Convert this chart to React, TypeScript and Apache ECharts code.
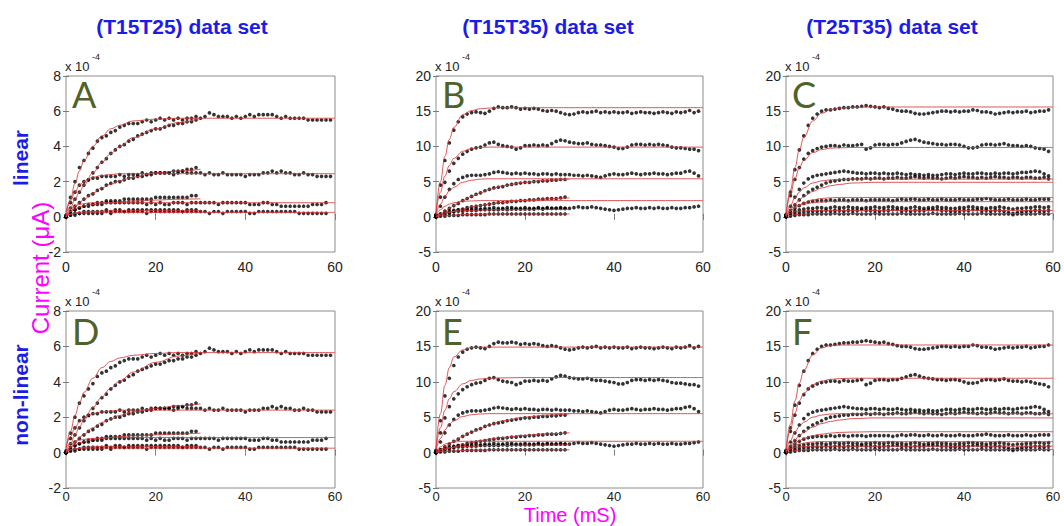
import React, { useEffect, useRef } from "react";
import * as echarts from "echarts";

// ---------- Data (units of 1e-4 µA, sampled every 1 ms) ----------
// Dataset T15T25 (panels A, D)
const A1 = [0.1, 1.1, 2.0, 2.8, 3.2, 3.6, 3.9, 4.3, 4.5, 4.6, 4.8, 4.9, 5.1, 5.2, 5.3, 5.3, 5.3, 5.4, 5.5, 5.4, 5.5, 5.6, 5.5, 5.6, 5.5, 5.6, 5.5, 5.6, 5.6, 5.7, 5.6, 5.7, 5.9, 5.8, 5.7, 5.7, 5.7, 5.6, 5.7, 5.6, 5.7, 5.8, 5.7, 5.8, 5.8, 5.8, 5.8, 5.7, 5.6, 5.7, 5.6, 5.6, 5.6, 5.6, 5.5, 5.5, 5.5, 5.5, 5.5, 5.5];
const A2 = [0.0, 0.5, 1.0, 1.4, 1.8, 2.1, 2.5, 2.8, 3.1, 3.3, 3.6, 3.8, 4.0, 4.1, 4.3, 4.4, 4.6, 4.7, 4.8, 4.9, 5.0, 5.0, 5.1, 5.2, 5.2, 5.3, 5.3, 5.4, 5.4, 5.5];
const A3 = [0.0, 0.8, 1.4, 1.8, 2.0, 2.1, 2.2, 2.2, 2.3, 2.3, 2.3, 2.3, 2.4, 2.3, 2.4, 2.4, 2.4, 2.5, 2.4, 2.5, 2.5, 2.5, 2.5, 2.5, 2.4, 2.5, 2.6, 2.5, 2.5, 2.5, 2.5, 2.4, 2.5, 2.4, 2.4, 2.5, 2.4, 2.4, 2.4, 2.4, 2.3, 2.4, 2.4, 2.4, 2.5, 2.5, 2.6, 2.5, 2.6, 2.5, 2.5, 2.4, 2.4, 2.5, 2.4, 2.4, 2.3, 2.3, 2.3, 2.3];
const A4 = [0.0, 0.3, 0.6, 0.8, 1.0, 1.2, 1.3, 1.5, 1.6, 1.8, 1.9, 2.0, 2.0, 2.1, 2.2, 2.2, 2.3, 2.3, 2.4, 2.4, 2.5, 2.5, 2.5, 2.5, 2.6, 2.6, 2.6, 2.7, 2.7, 2.8];
const A5 = [0.0, 0.2, 0.4, 0.5, 0.6, 0.7, 0.7, 0.8, 0.8, 0.9, 0.9, 0.9, 0.9, 1.0, 1.0, 1.0, 1.0, 1.0, 1.0, 1.0, 1.1, 1.1, 1.1, 1.1, 1.1, 1.1, 1.1, 1.1, 1.2, 1.2];
const A6 = [0.0, 0.2, 0.4, 0.5, 0.6, 0.6, 0.7, 0.7, 0.7, 0.8, 0.8, 0.8, 0.8, 0.8, 0.8, 0.8, 0.8, 0.8, 0.7, 0.8, 0.7, 0.8, 0.7, 0.7, 0.8, 0.8, 0.8, 0.7, 0.8, 0.8, 0.8, 0.8, 0.8, 0.8, 0.7, 0.8, 0.8, 0.8, 0.8, 0.8, 0.8, 0.7, 0.7, 0.7, 0.8, 0.8, 0.7, 0.7, 0.6, 0.6, 0.6, 0.6, 0.6, 0.6, 0.6, 0.7, 0.7, 0.7, 0.8];
const A7 = [0.0, 0.1, 0.2, 0.2, 0.3, 0.3, 0.3, 0.3, 0.3, 0.4, 0.3, 0.4, 0.4, 0.3, 0.4, 0.4, 0.4, 0.4, 0.4, 0.4, 0.4, 0.4, 0.4, 0.4, 0.4, 0.4, 0.3, 0.4, 0.4, 0.4];
const A8 = [0.0, 0.1, 0.1, 0.2, 0.2, 0.2, 0.2, 0.2, 0.2, 0.3, 0.2, 0.3, 0.3, 0.3, 0.3, 0.3, 0.3, 0.3, 0.2, 0.3, 0.3, 0.3, 0.3, 0.3, 0.3, 0.3, 0.3, 0.3, 0.3, 0.3, 0.3, 0.3, 0.2, 0.3, 0.3, 0.2, 0.3, 0.3, 0.3, 0.3, 0.3, 0.2, 0.2, 0.3, 0.3, 0.3, 0.3, 0.3, 0.3, 0.3, 0.3, 0.3, 0.2, 0.2, 0.2, 0.2, 0.2, 0.2, 0.2];

// Dataset T15T35 (panels B, E)
const B1 = [0.3, 4.5, 8.0, 10.5, 12.3, 13.5, 14.2, 14.6, 14.8, 14.9, 14.8, 14.7, 15.0, 15.4, 15.6, 15.5, 15.5, 15.6, 15.5, 15.3, 15.4, 15.3, 15.4, 15.3, 15.1, 15.0, 15.1, 15.0, 14.8, 14.6, 14.5, 14.6, 14.8, 14.9, 14.8, 14.9, 15.0, 14.8, 14.9, 14.8, 14.9, 14.8, 14.8, 14.9, 14.7, 14.8, 14.9, 14.8, 14.8, 14.7, 14.8, 14.9, 14.8, 14.7, 14.9, 14.8, 14.9, 15.1, 14.8, 15.0];
const B2 = [0.2, 2.8, 4.9, 6.5, 7.6, 8.3, 8.9, 9.3, 9.6, 9.8, 9.9, 10.2, 10.5, 10.6, 10.3, 10.1, 10.0, 9.9, 9.6, 9.8, 10.1, 10.1, 10.2, 10.1, 10.2, 10.1, 10.4, 10.7, 10.9, 10.8, 10.6, 10.5, 10.4, 10.4, 10.5, 10.3, 10.2, 10.2, 10.1, 10.0, 9.9, 9.7, 9.7, 9.9, 10.2, 10.3, 10.3, 10.2, 10.3, 10.2, 10.3, 10.2, 10.1, 9.9, 9.8, 9.8, 9.7, 9.6, 9.6, 9.4];
const B3 = [0.2, 1.5, 2.8, 3.9, 4.7, 5.3, 5.6, 5.8, 5.9, 5.9, 5.9, 6.0, 6.1, 6.3, 6.4, 6.3, 6.2, 6.1, 6.2, 6.1, 6.2, 6.1, 6.1, 6.0, 6.1, 6.1, 6.0, 6.1, 6.0, 6.0, 6.0, 5.9, 5.9, 5.8, 5.9, 5.8, 5.7, 5.6, 5.8, 6.0, 6.1, 6.0, 6.0, 6.1, 6.2, 6.1, 6.0, 6.1, 6.1, 6.2, 6.1, 6.1, 6.0, 6.1, 6.2, 6.2, 6.4, 6.5, 6.2, 5.8];
const B4 = [0.0, 0.4, 0.8, 1.2, 1.6, 1.9, 2.3, 2.6, 2.9, 3.2, 3.4, 3.7, 3.9, 4.1, 4.2, 4.3, 4.5, 4.6, 4.7, 4.8, 4.9, 4.9, 5.0, 5.0, 5.1, 5.1, 5.2, 5.2, 5.3, 5.3];
const B5 = [0.0, 0.2, 0.4, 0.6, 0.8, 1.0, 1.1, 1.3, 1.4, 1.5, 1.6, 1.7, 1.8, 1.9, 2.0, 2.0, 2.1, 2.2, 2.2, 2.3, 2.3, 2.4, 2.4, 2.5, 2.5, 2.6, 2.6, 2.6, 2.7, 2.8];
const B6 = [0.1, 0.4, 0.6, 0.8, 0.9, 1.0, 1.0, 1.1, 1.1, 1.2, 1.1, 1.2, 1.2, 1.3, 1.2, 1.2, 1.3, 1.3, 1.2, 1.2, 1.3, 1.2, 1.2, 1.3, 1.2, 1.3, 1.2, 1.2, 1.3, 1.2, 1.2, 1.3, 1.4, 1.3, 1.3, 1.4, 1.3, 1.2, 1.1, 1.0, 0.9, 1.0, 1.1, 1.2, 1.2, 1.3, 1.2, 1.2, 1.3, 1.2, 1.3, 1.2, 1.2, 1.3, 1.2, 1.2, 1.3, 1.3, 1.4, 1.5];
const B7 = [0.0, 0.3, 0.5, 0.6, 0.7, 0.8, 0.8, 0.9, 0.9, 0.9, 1.0, 1.0, 1.0, 1.0, 1.0, 1.1, 1.0, 1.1, 1.1, 1.1, 1.1, 1.1, 1.1, 1.2, 1.1, 1.2, 1.2, 1.2, 1.2, 1.2];
const B8 = [0.0, 0.1, 0.1, 0.2, 0.2, 0.2, 0.3, 0.3, 0.3, 0.3, 0.3, 0.3, 0.4, 0.4, 0.4, 0.4, 0.4, 0.4, 0.4, 0.4, 0.4, 0.4, 0.4, 0.4, 0.4, 0.4, 0.4, 0.4, 0.4, 0.4];

// Dataset T25T35 (panels C, F)
const C1 = [0.3, 3.5, 6.7, 9.5, 11.5, 13.0, 14.0, 14.6, 15.0, 15.2, 15.2, 15.3, 15.4, 15.5, 15.5, 15.6, 15.6, 15.7, 15.8, 15.7, 15.6, 15.5, 15.6, 15.4, 15.3, 15.1, 15.0, 15.0, 14.9, 14.7, 14.6, 14.6, 14.7, 14.8, 14.9, 15.0, 15.0, 14.9, 15.0, 14.9, 15.0, 15.0, 15.2, 15.1, 14.9, 14.9, 14.8, 14.6, 14.7, 14.8, 14.9, 14.8, 14.9, 14.9, 15.0, 14.8, 14.9, 15.0, 15.0, 15.2];
const C2 = [0.2, 3.0, 5.3, 7.0, 8.2, 9.0, 9.4, 9.7, 9.9, 10.0, 10.1, 10.1, 10.0, 10.2, 10.1, 10.1, 10.2, 10.3, 9.6, 9.8, 10.2, 10.3, 10.3, 10.2, 10.3, 10.3, 10.5, 10.7, 10.9, 11.0, 10.8, 10.6, 10.5, 10.4, 10.3, 10.3, 10.2, 10.3, 10.3, 10.2, 10.0, 9.8, 9.8, 9.9, 10.2, 10.3, 10.3, 10.2, 10.3, 10.4, 10.2, 10.1, 10.1, 10.0, 10.1, 10.0, 9.8, 9.7, 9.6, 9.3];
const C3 = [0.2, 1.5, 2.8, 3.9, 4.8, 5.4, 5.7, 5.9, 6.0, 6.1, 6.2, 6.3, 6.4, 6.5, 6.4, 6.3, 6.2, 6.2, 6.1, 6.2, 6.2, 6.1, 6.2, 6.1, 6.1, 6.2, 6.1, 6.0, 6.1, 6.0, 6.0, 5.9, 6.0, 5.9, 5.9, 6.0, 6.1, 6.1, 6.0, 6.1, 6.2, 6.1, 6.1, 6.2, 6.2, 6.1, 6.1, 6.2, 6.1, 6.2, 6.2, 6.1, 6.2, 6.3, 6.3, 6.4, 6.5, 6.4, 6.1, 5.8];
const C4 = [0.1, 0.9, 1.7, 2.4, 3.0, 3.5, 3.9, 4.2, 4.5, 4.8, 5.0, 5.1, 5.2, 5.3, 5.3, 5.4, 5.4, 5.4, 5.5, 5.4, 5.5, 5.5, 5.4, 5.5, 5.5, 5.6, 5.5, 5.5, 5.6, 5.7, 5.6, 5.5, 5.6, 5.5, 5.5, 5.4, 5.5, 5.6, 5.5, 5.6, 5.7, 5.6, 5.6, 5.5, 5.6, 5.5, 5.6, 5.7, 5.6, 5.6, 5.5, 5.6, 5.6, 5.5, 5.6, 5.6, 5.5, 5.5, 5.6, 5.4];
const C5 = [0.1, 0.7, 1.2, 1.6, 1.9, 2.1, 2.2, 2.3, 2.3, 2.3, 2.4, 2.3, 2.4, 2.4, 2.3, 2.4, 2.4, 2.4, 2.3, 2.4, 2.4, 2.4, 2.4, 2.4, 2.3, 2.4, 2.5, 2.4, 2.5, 2.5, 2.4, 2.4, 2.5, 2.4, 2.4, 2.5, 2.4, 2.4, 2.4, 2.5, 2.4, 2.4, 2.4, 2.5, 2.5, 2.6, 2.5, 2.4, 2.4, 2.4, 2.5, 2.4, 2.4, 2.4, 2.5, 2.4, 2.4, 2.5, 2.5, 2.5];
const C6 = [0.1, 0.5, 0.8, 1.0, 1.1, 1.2, 1.2, 1.3, 1.3, 1.2, 1.3, 1.4, 1.3, 1.3, 1.4, 1.3, 1.3, 1.2, 1.3, 1.3, 1.4, 1.3, 1.3, 1.4, 1.4, 1.3, 1.3, 1.2, 1.3, 1.4, 1.3, 1.2, 1.3, 1.3, 1.4, 1.3, 1.3, 1.2, 1.2, 1.3, 1.3, 1.4, 1.4, 1.3, 1.3, 1.2, 1.3, 1.3, 1.4, 1.3, 1.2, 1.1, 1.2, 1.2, 1.3, 1.3, 1.4, 1.4, 1.3, 1.4];
const C7 = [0.0, 0.3, 0.5, 0.6, 0.7, 0.7, 0.8, 0.8, 0.8, 0.9, 0.8, 0.9, 0.9, 0.8, 0.9, 0.9, 0.9, 1.0, 0.9, 0.9, 0.9, 0.8, 0.9, 0.9, 1.0, 1.0, 0.9, 0.9, 0.8, 0.9, 0.9, 0.9, 1.0, 1.0, 1.0, 0.9, 0.9, 0.8, 0.8, 0.9, 0.9, 0.9, 1.0, 1.0, 0.9, 0.9, 0.8, 0.9, 0.9, 0.8, 0.6, 0.5, 0.6, 0.7, 0.8, 0.8, 0.9, 0.9, 0.8, 0.9];
const C8 = [0.0, 0.1, 0.2, 0.3, 0.3, 0.3, 0.4, 0.4, 0.4, 0.4, 0.4, 0.5, 0.4, 0.4, 0.4, 0.5, 0.4, 0.4, 0.4, 0.4, 0.5, 0.4, 0.4, 0.4, 0.4, 0.4, 0.5, 0.4, 0.4, 0.4, 0.4, 0.4, 0.4, 0.5, 0.4, 0.4, 0.4, 0.4, 0.4, 0.5, 0.4, 0.4, 0.4, 0.4, 0.5, 0.4, 0.4, 0.4, 0.4, 0.4, 0.4, 0.3, 0.4, 0.4, 0.4, 0.4, 0.4, 0.5, 0.4, 0.4];

// ---------- Fitted curves (red), sampled at FIT_T ----------
const FIT_T = [0, 1, 2, 3, 4, 6, 8, 10, 12, 15, 20, 25, 30, 40, 50, 60];

// A: linear, T15T25
const FA1 = [0, 1.0, 1.9, 2.6, 3.2, 4.0, 4.6, 5.0, 5.2, 5.45, 5.55, 5.6, 5.6, 5.6, 5.6, 5.6];
const FA2 = [0, 0.5, 1.0, 1.4, 1.8, 2.5, 3.1, 3.6, 4.0, 4.5, 5.0, 5.35, 5.6];
const FA3 = [0.3, 0.9, 1.4, 1.8, 2.0, 2.25, 2.35, 2.4, 2.45, 2.45, 2.45, 2.45, 2.45, 2.45, 2.45, 2.45];
const FA4 = [0, 0.3, 0.6, 0.8, 1.0, 1.35, 1.65, 1.85, 2.05, 2.25, 2.5, 2.6, 2.7];
const FA5 = [0.3, 0.5, 0.6, 0.7, 0.75, 0.8, 0.8, 0.8, 0.8, 0.8, 0.8, 0.8, 0.8, 0.8, 0.8, 0.8];
const FA6 = [0, 0.3, 0.45, 0.55, 0.62, 0.7, 0.75, 0.8, 0.85, 0.9, 0.95, 1.0, 1.02];
const FA7 = [0.1, 0.15, 0.2, 0.2, 0.22, 0.25, 0.25, 0.25, 0.25, 0.25, 0.25, 0.25, 0.25, 0.25, 0.25, 0.25];
const FA8 = [0, 0.15, 0.2, 0.25, 0.28, 0.3, 0.32, 0.35, 0.35, 0.35, 0.35, 0.35, 0.35];
// B: linear, T15T35
const FB1 = [0.5, 5.0, 8.6, 11.0, 12.7, 14.5, 15.1, 15.35, 15.45, 15.5, 15.5, 15.5, 15.5, 15.5, 15.5, 15.5];
const FB2 = [0.5, 3.5, 5.8, 7.3, 8.3, 9.3, 9.7, 9.85, 9.9, 9.9, 9.9, 9.9, 9.9, 9.9, 9.9, 9.9];
const FB3 = [0.3, 1.8, 2.9, 3.7, 4.2, 4.9, 5.2, 5.35, 5.4, 5.4, 5.4, 5.4, 5.4, 5.4, 5.4, 5.4];
const FB4 = [0, 0.4, 0.8, 1.2, 1.6, 2.3, 2.9, 3.4, 3.9, 4.4, 4.9, 5.2, 5.35];
const FB5 = [0.3, 1.0, 1.5, 1.8, 2.0, 2.2, 2.25, 2.3, 2.3, 2.3, 2.3, 2.3, 2.3, 2.3, 2.3, 2.3];
const FB6 = [0, 0.2, 0.4, 0.6, 0.8, 1.1, 1.4, 1.6, 1.8, 2.05, 2.35, 2.55, 2.7];
const FB7 = [0.1, 0.4, 0.6, 0.7, 0.75, 0.85, 0.9, 0.95, 1.0, 1.0, 1.0, 1.05, 1.05];
const FB8 = [0, 0.1, 0.15, 0.2, 0.25, 0.3, 0.35, 0.35, 0.4, 0.4, 0.4, 0.4, 0.4];
// C: linear, T25T35
const FC1 = [0.3, 3.8, 7.0, 9.5, 11.3, 13.6, 14.7, 15.2, 15.45, 15.55, 15.6, 15.6, 15.6, 15.6, 15.6, 15.6];
const FC2 = [0.3, 3.2, 5.4, 7.0, 8.0, 9.1, 9.55, 9.75, 9.8, 9.85, 9.85, 9.85, 9.85, 9.85, 9.85, 9.85];
const FC3 = [0.2, 1.6, 2.7, 3.5, 4.1, 4.8, 5.1, 5.25, 5.3, 5.35, 5.35, 5.35, 5.35, 5.35, 5.35, 5.35];
const FC4 = [0.1, 1.0, 1.8, 2.4, 2.9, 3.6, 4.1, 4.4, 4.6, 4.8, 4.9, 4.9, 4.9, 4.9, 4.9, 4.9];
const FC5 = [0.1, 0.8, 1.3, 1.7, 2.0, 2.4, 2.6, 2.7, 2.75, 2.75, 2.75, 2.75, 2.75, 2.75, 2.75, 2.75];
const FC6 = [0.1, 0.8, 1.3, 1.6, 1.8, 2.0, 2.1, 2.15, 2.15, 2.15, 2.15, 2.15, 2.15, 2.15, 2.15, 2.15];
const FC7 = [0.1, 0.5, 0.7, 0.8, 0.85, 0.9, 0.9, 0.9, 0.9, 0.9, 0.9, 0.9, 0.9, 0.9, 0.9, 0.9];
const FC8 = [0.0, 0.2, 0.3, 0.35, 0.4, 0.45, 0.45, 0.45, 0.45, 0.45, 0.45, 0.45, 0.45, 0.45, 0.45, 0.45];
// D: non-linear, T15T25
const FD1 = [0.2, 1.2, 2.1, 2.8, 3.4, 4.2, 4.8, 5.15, 5.35, 5.5, 5.6, 5.65, 5.65, 5.65, 5.65, 5.65];
const FD2 = [0, 0.5, 1.0, 1.45, 1.85, 2.55, 3.15, 3.65, 4.05, 4.55, 5.1, 5.45, 5.65];
const FD3 = [0.3, 0.9, 1.4, 1.75, 1.95, 2.2, 2.3, 2.35, 2.4, 2.4, 2.4, 2.4, 2.4, 2.4, 2.4, 2.4];
const FD4 = [0, 0.3, 0.6, 0.85, 1.05, 1.4, 1.7, 1.9, 2.1, 2.3, 2.5, 2.65, 2.75];
const FD5 = [0.3, 0.5, 0.6, 0.7, 0.75, 0.8, 0.82, 0.85, 0.85, 0.85, 0.85, 0.85, 0.85, 0.85, 0.85, 0.85];
const FD6 = [0, 0.3, 0.45, 0.55, 0.62, 0.72, 0.8, 0.85, 0.9, 0.95, 1.0, 1.05, 1.1];
const FD7 = [0.1, 0.15, 0.2, 0.22, 0.25, 0.25, 0.25, 0.25, 0.25, 0.25, 0.25, 0.25, 0.25, 0.25, 0.25, 0.25];
const FD8 = [0, 0.15, 0.2, 0.25, 0.3, 0.32, 0.35, 0.35, 0.35, 0.35, 0.35, 0.35, 0.35];
// E: non-linear, T15T35
const FE1 = [0.5, 5.5, 9.5, 12.0, 13.5, 14.5, 14.85, 14.9, 14.9, 14.9, 14.9, 14.9, 14.9, 14.9, 14.9, 14.9];
const FE2 = [0.5, 3.5, 6.0, 7.6, 8.6, 9.7, 10.2, 10.4, 10.5, 10.55, 10.6, 10.6, 10.6, 10.6, 10.6, 10.6];
const FE3 = [0.3, 2.0, 3.2, 4.0, 4.5, 5.1, 5.35, 5.45, 5.5, 5.5, 5.5, 5.5, 5.5, 5.5, 5.5, 5.5];
const FE4 = [0, 0.4, 0.8, 1.2, 1.6, 2.3, 2.9, 3.4, 3.9, 4.5, 5.0, 5.3, 5.5];
const FE5 = [0.2, 0.8, 1.2, 1.4, 1.5, 1.6, 1.6, 1.6, 1.6, 1.6, 1.6, 1.6, 1.6, 1.6, 1.6, 1.6];
const FE6 = [0, 0.2, 0.4, 0.6, 0.8, 1.1, 1.4, 1.7, 1.9, 2.15, 2.45, 2.65, 2.8];
const FE7 = [0.1, 0.4, 0.6, 0.7, 0.75, 0.85, 0.9, 0.95, 1.0, 1.0, 1.05, 1.05, 1.1];
const FE8 = [0, 0.1, 0.15, 0.2, 0.25, 0.3, 0.35, 0.35, 0.4, 0.4, 0.4, 0.4, 0.4];
// F: non-linear, T25T35
const FF1 = [0.3, 4.0, 7.3, 9.8, 11.6, 13.8, 14.8, 15.1, 15.2, 15.2, 15.2, 15.2, 15.2, 15.2, 15.2, 15.2];
const FF2 = [0.3, 3.3, 5.6, 7.3, 8.4, 9.6, 10.1, 10.35, 10.45, 10.5, 10.5, 10.5, 10.5, 10.5, 10.5, 10.5];
const FF3 = [0.2, 1.7, 2.9, 3.7, 4.3, 5.0, 5.3, 5.45, 5.5, 5.5, 5.5, 5.5, 5.5, 5.5, 5.5, 5.5];
const FF4 = [0.1, 1.0, 1.8, 2.4, 2.9, 3.6, 4.1, 4.4, 4.6, 4.8, 4.9, 4.9, 4.9, 4.9, 4.9, 4.9];
const FF5 = [0.1, 0.8, 1.3, 1.7, 2.0, 2.4, 2.6, 2.75, 2.85, 2.9, 2.95, 2.95, 2.95, 2.95, 2.95, 2.95];
const FF6 = [0.1, 0.6, 1.0, 1.2, 1.35, 1.5, 1.55, 1.55, 1.55, 1.55, 1.55, 1.55, 1.55, 1.55, 1.55, 1.55];
const FF7 = [0.1, 0.5, 0.7, 0.8, 0.85, 0.9, 0.9, 0.9, 0.9, 0.9, 0.9, 0.9, 0.9, 0.9, 0.9, 0.9];
const FF8 = [0.0, 0.2, 0.3, 0.35, 0.4, 0.45, 0.45, 0.45, 0.45, 0.45, 0.45, 0.45, 0.45, 0.45, 0.45, 0.45];

// ---------- Labels ----------
const COL_TITLES = ["(T15T25) data set", "(T15T35) data set", "(T25T35) data set"];
const ROW_TITLES = ["linear", "non-linear"];
const PANEL_LETTERS = ["A", "B", "C", "D", "E", "F"];
const X_TITLE = "Time (mS)";
const Y_TITLE = "Current (\u03BCA)";

const DATA_SETS = [
  [A1, A2, A3, A4, A5, A6, A7, A8],
  [B1, B2, B3, B4, B5, B6, B7, B8],
  [C1, C2, C3, C4, C5, C6, C7, C8],
];
const FIT_SETS = [
  [FA1, FA2, FA3, FA4, FA5, FA6, FA7, FA8],
  [FB1, FB2, FB3, FB4, FB5, FB6, FB7, FB8],
  [FC1, FC2, FC3, FC4, FC5, FC6, FC7, FC8],
  [FD1, FD2, FD3, FD4, FD5, FD6, FD7, FD8],
  [FE1, FE2, FE3, FE4, FE5, FE6, FE7, FE8],
  [FF1, FF2, FF3, FF4, FF5, FF6, FF7, FF8],
];

// ---------- Layout ----------
const LEFTS = [66, 436, 786];
const WIDTHS = [269, 267, 267];
const TOPS = [76, 311];
const HEIGHTS = [176, 177];
const FONT = "'Liberation Sans', Arial, Helvetica, sans-serif";

function buildOption() {
  const grid: any[] = [];
  const xAxis: any[] = [];
  const yAxis: any[] = [];
  const series: any[] = [];
  const graphic: any[] = [];

  const tickStyle = { inside: true, length: 3, lineStyle: { color: "#7a7a7a", width: 1 } };
  const labelStyle = { color: "#222", fontSize: 14, fontFamily: FONT };

  for (let p = 0; p < 6; p++) {
    const row = p < 3 ? 0 : 1;
    const col = p % 3;
    grid.push({
      left: LEFTS[col], top: TOPS[row], width: WIDTHS[col], height: HEIGHTS[row],
      show: true, borderColor: "#8c8c8c", borderWidth: 1, backgroundColor: "#fff",
    });
    const yr = col === 0 ? { min: -2, max: 8, interval: 2 } : { min: -5, max: 20, interval: 5 };
    const xBase = { gridIndex: p, type: "value", min: 0, max: 60, interval: 20, axisLine: { show: false }, splitLine: { show: false }, axisTick: tickStyle };
    xAxis.push({ ...xBase, position: "bottom", axisLabel: { ...labelStyle, fontSize: row === 1 ? 13 : 14, margin: row === 1 ? 2 : 7, lineHeight: row === 1 ? 13 : 16 } });
    xAxis.push({ ...xBase, position: "top", axisLabel: { show: false } });
    const yBase = { gridIndex: p, type: "value", ...yr, axisLine: { show: false }, splitLine: { show: false }, axisTick: tickStyle };
    yAxis.push({ ...yBase, position: "left", axisLabel: { ...labelStyle, margin: 5 } });
    yAxis.push({ ...yBase, position: "right", axisLabel: { show: false } });

    DATA_SETS[col].forEach((tr) => {
      series.push({
        type: "scatter", xAxisIndex: 2 * p, yAxisIndex: 2 * p,
        data: tr.map((y, i) => [i, y]), symbol: "circle", symbolSize: 3.7,
        itemStyle: { color: "#000" }, silent: true, z: 2,
      });
    });
    FIT_SETS[p].forEach((f) => {
      series.push({
        type: "line", xAxisIndex: 2 * p, yAxisIndex: 2 * p,
        data: f.map((y, i) => [FIT_T[i], y]), smooth: 0.4, smoothMonotone: "x",
        showSymbol: false, symbol: "none",
        lineStyle: { color: "#d8383a", width: 1, opacity: 0.85 }, silent: true, z: 3,
      });
    });

    const gl = LEFTS[col];
    const gt = TOPS[row];
    // x 10^-4 multiplier
    graphic.push({ type: "text", x: gl - 1, y: gt - 10, style: { text: "x 10", fill: "#222", font: `13px ${FONT}`, align: "left", verticalAlign: "middle", textAlign: "left", textVerticalAlign: "middle" } });
    graphic.push({ type: "text", x: gl + 26, y: gt - 19, style: { text: "-4", fill: "#222", font: `9px ${FONT}`, align: "left", verticalAlign: "middle", textAlign: "left", textVerticalAlign: "middle" } });
    // panel letter
    graphic.push({ type: "text", x: gl + 6, y: gt + (row === 0 ? 18 : 20), style: { text: PANEL_LETTERS[p], fill: "#4f6228", font: `36px Lato, 'Open Sans', sans-serif`, align: "left", verticalAlign: "middle", textAlign: "left", textVerticalAlign: "middle" } });
  }

  const TITLE_X = [182, 548, 892];
  COL_TITLES.forEach((t, i) => {
    graphic.push({ type: "text", x: TITLE_X[i], y: 26, style: { text: t, fill: "#1c1ce8", font: `bold 21px ${FONT}`, align: "center", verticalAlign: "middle", textAlign: "center", textVerticalAlign: "middle" } });
  });
  const ROW_Y = [158, 395];
  ROW_TITLES.forEach((t, i) => {
    graphic.push({ type: "text", x: 20, y: ROW_Y[i], rotation: Math.PI / 2, style: { text: t, fill: "#1c1ce8", font: `bold 21px ${FONT}`, align: "center", verticalAlign: "middle", textAlign: "center", textVerticalAlign: "middle" } });
  });
  graphic.push({ type: "text", x: 40, y: 268, rotation: Math.PI / 2, z: 10, style: { text: Y_TITLE, fill: "#ff00ff", font: `24px ${FONT}`, align: "center", verticalAlign: "middle", textAlign: "center", textVerticalAlign: "middle" } });
  graphic.push({ type: "text", x: 570, y: 525, style: { text: X_TITLE, fill: "#ff00ff", font: `20px ${FONT}`, lineHeight: 20, align: "center", verticalAlign: "bottom", textAlign: "center", textVerticalAlign: "bottom" } });

  return {
    animation: false,
    backgroundColor: "#fff",
    grid, xAxis, yAxis, series, graphic,
  };
}

export default function App() {
  const ref = useRef<HTMLDivElement>(null);
  useEffect(() => {
    if (!ref.current) return;
    const chart = echarts.init(ref.current, null, { renderer: "svg" });
    chart.setOption(buildOption());
    return () => chart.dispose();
  }, []);
  return (
    <div
      ref={ref}
      style={{ position: "fixed", left: 0, top: 0, width: 1064, height: 526, background: "#fff" }}
    />
  );
}
